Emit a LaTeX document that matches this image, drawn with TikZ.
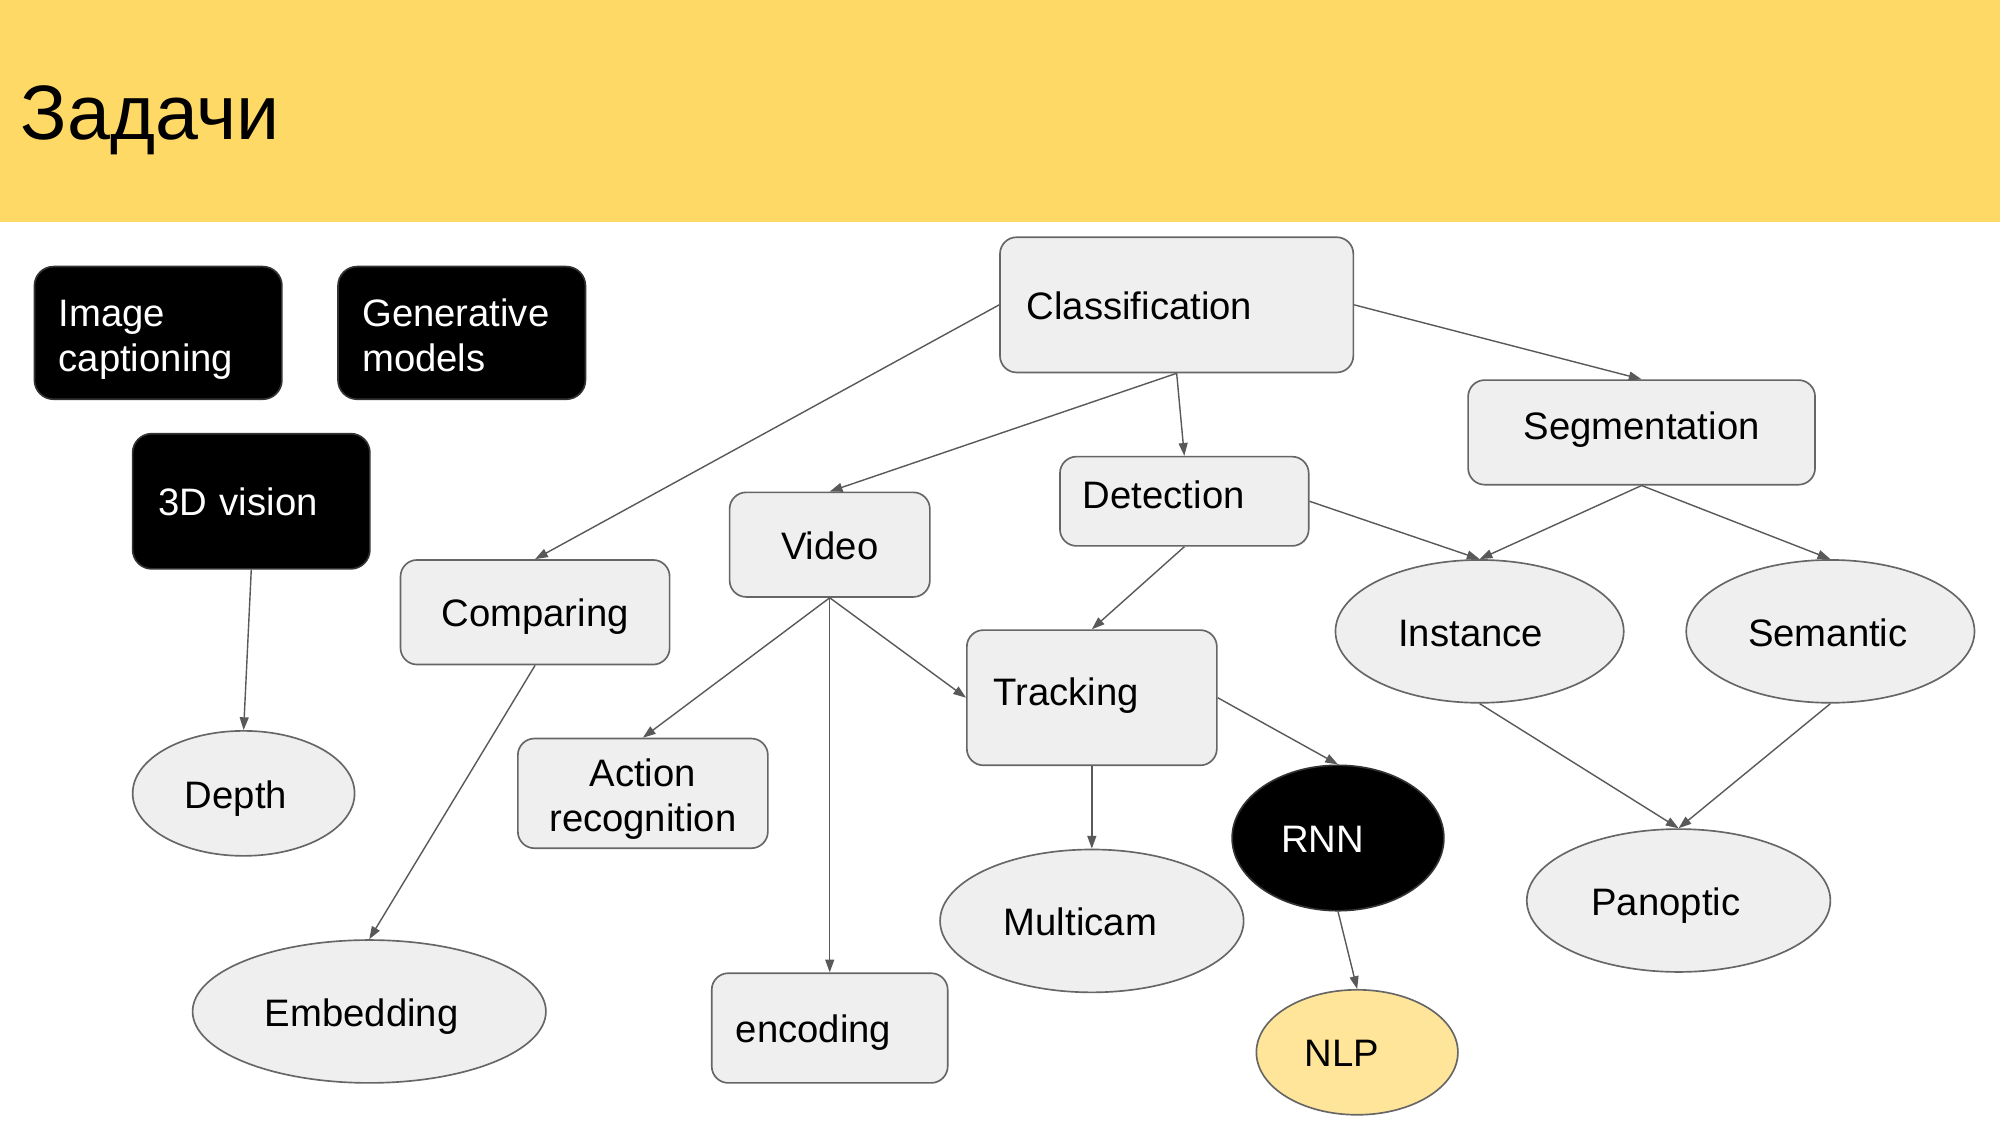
\documentclass[tikz,border=0pt]{standalone}
\usepackage{fontspec}
\setmainfont{Liberation Sans}
\usetikzlibrary{shapes.geometric,arrows.meta}
\definecolor{hdr}{HTML}{FFD966}
\definecolor{boxfill}{HTML}{EFEFEF}
\definecolor{boxline}{HTML}{666666}
\definecolor{arr}{HTML}{595959}
\definecolor{nlpfill}{HTML}{FFE599}
\newcommand\shl[2]{#2\hspace*{#1}}
\begin{document}
\begin{tikzpicture}[x=1pt,y=-1pt,
  txt/.style={font=\fontsize{30}{35}\selectfont},
  one/.style={text height=29pt, text depth=6pt},
  two/.style={text height=25pt, text depth=35pt},
  gbox/.style={txt, draw=boxline, line width=1.3pt, fill=boxfill, rounded corners=13pt, align=center, inner sep=0pt},
  bbox/.style={txt, draw=black!80, line width=1.3pt, fill=black, text=white, rounded corners=15pt, inner sep=0pt, align=left},
  gell/.style={txt, one, ellipse, draw=boxline, line width=1.3pt, fill=boxfill, inner sep=0pt},
  conn/.style={draw=arr, line width=1.1pt, -{Triangle[length=10pt,width=7pt]}}
]
\useasboundingbox (0,0) rectangle (1568,882);
\fill[white] (0,0) rectangle (1568,882);
\fill[hdr] (0,0) rectangle (1568,174);
\node[anchor=base west, font=\fontsize{60.5}{70}\selectfont, inner sep=0pt] (title) at (16,109) {Задачи};

% black boxes
\node[bbox, two, minimum width=194pt, minimum height=104pt, text width=156pt, inner xsep=19pt] (imgcap) at (124,261) {Image\\captioning};
\node[bbox, two, minimum width=194pt, minimum height=104pt, text width=156pt, inner xsep=19pt] (gen) at (362,261) {Generative\\models};
\node[bbox, one, minimum width=186pt, minimum height=106pt, text width=146pt, inner xsep=20pt] (v3d) at (197,393) {3D vision};

% gray boxes
\node[gbox, one, minimum width=277pt, minimum height=106pt, text width=235pt, inner xsep=21pt, align=left] (cls) at (922.5,239) {Classification};
\node[gbox, one, minimum width=272pt, minimum height=82pt] (seg) at (1287,339) {\raisebox{6pt}{Segmentation}};
\node[gbox, one, minimum width=195pt, minimum height=70pt, text width=159pt, inner xsep=18pt, align=left] (det) at (928.5,393) {\raisebox{6pt}{Detection}};
\node[gbox, one, minimum width=157pt, minimum height=82pt] (vid) at (650.5,427) {Video};
\node[gbox, one, minimum width=211pt, minimum height=82pt] (cmp) at (419.5,480) {Comparing};
\node[gbox, one, minimum width=196pt, minimum height=106pt, text width=154pt, inner xsep=21pt, align=left] (trk) at (856,547) {\raisebox{5pt}{Tracking}};
\node[gbox, two, minimum width=196pt, minimum height=86pt, text width=170pt, inner xsep=13pt] (act) at (504,622) {Action\\recognition};
\node[gbox, one, minimum width=185pt, minimum height=86pt, text width=147pt, inner xsep=19pt, align=left] (enc) at (650.5,806) {encoding};

% ellipses
\node[gell, minimum width=226pt, minimum height=112pt] (inst) at (1160,495) {\shl{14pt}{Instance}};
\node[gell, minimum width=226pt, minimum height=112pt] (sem) at (1435,495) {\shl{4pt}{Semantic}};
\node[gell, minimum width=174pt, minimum height=98pt] (dep) at (191,622) {\shl{12pt}{Depth}};
\node[gell, minimum width=277pt, minimum height=112pt] (emb) at (289.5,793) {\shl{12pt}{Embedding}};
\node[gell, minimum width=238pt, minimum height=112pt] (mc) at (856,722) {\shl{18pt}{Multicam}};
\node[gell, minimum width=166pt, minimum height=114pt, fill=black, draw=black!80, text=white] (rnn) at (1049,657) {\shl{24pt}{RNN}};
\node[gell, minimum width=158pt, minimum height=98pt, fill=nlpfill] (nlp) at (1064,825) {\shl{24pt}{NLP}};
\node[gell, minimum width=238pt, minimum height=112pt] (pan) at (1316,706) {\shl{20pt}{Panoptic}};

% connectors
\draw[conn] (cls.west) -- (cmp.north);
\draw[conn] (cls.south) -- (vid.north);
\draw[conn] (cls.south) -- (det.north);
\draw[conn] (cls.east) -- (seg.north);
\draw[conn] (seg.south) -- (inst.north);
\draw[conn] (seg.south) -- (sem.north);
\draw[conn] (det.east) -- (inst.north);
\draw[conn] (det.south) -- (trk.north);
\draw[conn] (vid.south) -- (act.north);
\draw[conn] (vid.south) -- (enc.north);
\draw[conn] (vid.south) -- (trk.west);
\draw[conn] (trk.south) -- (mc.north);
\draw[conn] (trk.east) -- (rnn.north);
\draw[conn] (rnn.south) -- (nlp.north);
\draw[conn] (inst.south) -- (pan.north);
\draw[conn] (sem.south) -- (pan.north);
\draw[conn] (v3d.south) -- (dep.north);
\draw[conn] (cmp.south) -- (emb.north);
\end{tikzpicture}
\end{document}
